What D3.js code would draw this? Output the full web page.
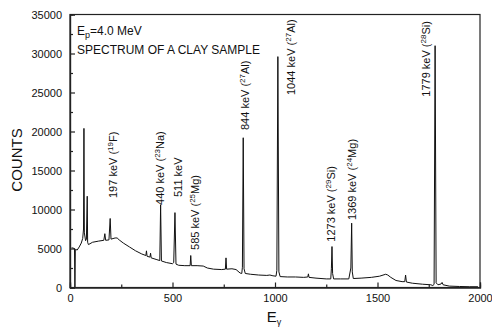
<!DOCTYPE html>
<html lang="en">
    <head>
        <meta charset="utf-8">
        <title>Clay sample spectrum</title>
        <script src="https://d3js.org/d3.v7.min.js"></script>
        <style type="text/css">
            body { margin: 0; background: white; }
            svg { display: block; }
            text { font-family: "Liberation Sans", Arial, sans-serif; fill: #111; }
            .axis text { font-size: 11px; }
            .axis path, .axis line { stroke: #222; stroke-width: 1.2; }
        </style>
    </head>
    <body>
        <svg width="492" height="328"></svg>
        <script type="text/javascript">

            // spectrum: channel (E) and counts
            const energy = [8, 22, 24, 26, 35, 45, 55, 62, 66, 68, 70, 76, 80, 84, 86, 90, 110, 140, 165, 170, 174, 190, 196, 200,
                            220, 230, 240, 260, 290, 320, 350, 370, 373, 376, 390, 393, 396, 420, 438, 442, 446, 470, 500, 506,
                            512, 517, 530, 560, 586, 589, 592, 620, 650, 670, 700, 740, 758, 761, 764, 790, 810, 830, 838, 841,
                            845, 849, 855, 880, 920, 960, 975, 990, 1005, 1009, 1014, 1019, 1025, 1060, 1100, 1140, 1160, 1163,
                            1166, 1200, 1250, 1272, 1275, 1278, 1281, 1286, 1320, 1360, 1370, 1374, 1377, 1382, 1420, 1470, 1510,
                            1540, 1550, 1565, 1590, 1620, 1633, 1637, 1641, 1670, 1720, 1760, 1770, 1776, 1781, 1786, 1795, 1810,
                            1815, 1820, 1850, 1900, 1950, 1990];
            const counts = [5100, 5000, 0, 4900, 4800, 5200, 5700, 6300, 7500, 20400, 7000, 6000, 6200, 11700, 5800, 5500, 5800, 5950, 6050, 6900, 6050, 6100, 8850, 6200,
                            6350, 6350, 6100, 5700, 5200, 4700, 4300, 4100, 4700, 4000, 3900, 4400, 3800, 3600, 3450, 10600, 3400, 3200, 3050, 3200,
                            9600, 3000, 2850, 2800, 2800, 4100, 2800, 2800, 2750, 2500, 2350, 2300, 2350, 3800, 2350, 2400, 2300, 1850, 1800, 2600,
                            19200, 2400, 1800, 1700, 1600, 1550, 1600, 1500, 1450, 2200, 29600, 2000, 1400, 1350, 1350, 1300, 1350, 1750,
                            1300, 1200, 1100, 1100, 2400, 5250, 1800, 1100, 1100, 1100, 2500, 8250, 2000, 1150, 1200, 1300, 1450,
                            1700, 1600, 1300, 900, 750, 750, 1600, 700, 550, 420, 350, 250, 400, 31000, 600, 350, 450,
                            650, 350, 180, 130, 100, 100];

            // peak labels and where each one starts (data units)
            const labelText = ["197 keV", "440 keV", "511 keV", "585 keV", "844 keV", "1044 keV", "1273 keV", "1369 keV", "1779 keV"];
            const labelMass = ["19", "23", "", "25", "27", "27", "29", "24", "28"];
            const labelElem = ["F", "Na", "", "Mg", "Al", "Al", "Si", "Mg", "Si"];
            const labelAtE = [229, 459, 546, 629, 873, 1098, 1293, 1395, 1756];
            const labelAtCounts = [11470, 10580, 11600, 4810, 20190, 24680, 5870, 8650, 24460];

            const xTicks = [0, 500, 1000, 1500, 2000];
            const xMinor = [250, 750, 1250, 1750];
            const yTicks = [0, 5000, 10000, 15000, 20000, 25000, 30000, 35000];
            const yMinor = [2500, 7500, 12500, 17500, 22500, 27500, 32500];

            const svg = d3.select("svg");
            const mLeft = 70, mRight = 480, mTop = 14.5, mBottom = 287.5;

            const x = d3.scaleLinear().domain([0, 2000]).range([mLeft, mRight]);
            const y = d3.scaleLinear().domain([0, 35000]).range([mBottom, mTop]);

            // spectrum
            const pts = energy.map((e, i) => [e, counts[i]]);
            svg.append("path")
               .datum(pts)
               .attr("d", d3.line().x(d => x(d[0])).y(d => y(d[1])))
               .attr("fill", "none")
               .attr("stroke", "#111")
               .attr("stroke-width", 1);

            // frame
            svg.append("rect")
               .attr("x", mLeft).attr("y", mTop)
               .attr("width", mRight - mLeft).attr("height", mBottom - mTop)
               .attr("fill", "none")
               .attr("stroke", "#222")
               .attr("stroke-width", 1.2);

            // axes, ticks pointing inward
            svg.append("g").attr("class", "axis")
               .attr("transform", `translate(0,${mBottom})`)
               .call(d3.axisBottom(x).tickValues(xTicks).tickSize(-5).tickPadding(7).tickFormat(d3.format("d")));
            svg.append("g").attr("class", "axis")
               .attr("transform", `translate(0,${mBottom})`)
               .call(d3.axisBottom(x).tickValues(xMinor).tickSize(-3).tickFormat(""));
            svg.append("g").attr("class", "axis")
               .attr("transform", `translate(${mLeft},0)`)
               .call(d3.axisLeft(y).tickValues(yTicks).tickSize(-5).tickPadding(8).tickFormat(d3.format("d")));
            svg.append("g").attr("class", "axis")
               .attr("transform", `translate(${mLeft},0)`)
               .call(d3.axisLeft(y).tickValues(yMinor).tickSize(-3).tickFormat(""));

            // axis titles
            svg.append("text")
               .attr("transform", "translate(21.5,160) rotate(-90)")
               .attr("text-anchor", "middle")
               .style("font-size", "15px")
               .text("COUNTS");

            const xt = svg.append("text")
               .attr("x", 274).attr("y", 321.5)
               .attr("text-anchor", "middle")
               .style("font-size", "15px");
            xt.append("tspan").text("E");
            xt.append("tspan").attr("dy", 3).style("font-size", "9px").text("\u03B3");

            // header text
            const t1 = svg.append("text").attr("x", 77).attr("y", 35.3).style("font-size", "12px");
            t1.append("tspan").text("E");
            t1.append("tspan").attr("dy", 3).style("font-size", "9px").text("p");
            t1.append("tspan").attr("dy", -3).text("=4.0 MeV");

            svg.append("text").attr("x", 77).attr("y", 54.3)
               .style("font-size", "12px")
               .text("SPECTRUM OF A CLAY SAMPLE");

            // peak labels, rotated
            labelText.forEach((t, i) => {
                const lab = svg.append("text")
                   .attr("transform", `translate(${x(labelAtE[i])},${y(labelAtCounts[i])}) rotate(-90)`)
                   .style("font-size", "11px");
                lab.append("tspan").text(t);
                if (labelMass[i] !== "") {
                    lab.append("tspan").text(" (");
                    lab.append("tspan").attr("dy", -4).style("font-size", "8px").text(labelMass[i]);
                    lab.append("tspan").attr("dy", 4).text(labelElem[i] + ")");
                }
            });

        </script>
    </body>
</html>
